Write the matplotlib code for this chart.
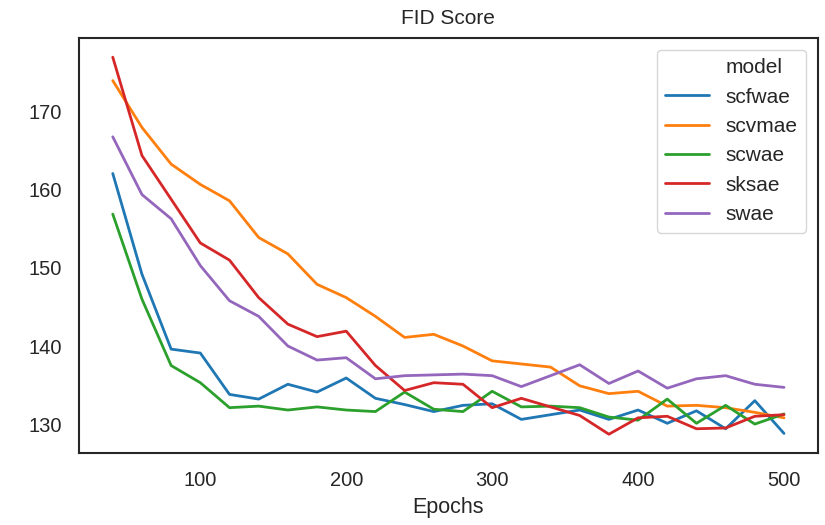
import matplotlib
matplotlib.use("Agg")
import matplotlib.pyplot as plt
import seaborn as sns
from matplotlib.lines import Line2D

sns.set_style("white")
plt.rcParams['font.family'] = ['Liberation Sans', 'DejaVu Sans']

epochs = list(range(40, 501, 20))

scfwae = [162.1, 149.2, 139.6, 139.1, 133.8, 133.2, 135.1, 134.1, 135.9, 133.3, 132.5, 131.6,
          132.4, 132.6, 130.6, 131.2, 131.8, 130.6, 131.8, 130.1, 131.7, 129.4, 133.0, 128.8]
scvmae = [174.0, 168.0, 163.3, 160.7, 158.6, 153.9, 151.8, 147.9, 146.2, 143.8, 141.1, 141.5,
          140.0, 138.1, 137.7, 137.3, 134.9, 133.9, 134.2, 132.3, 132.4, 132.1, 131.5, 130.8]
scwae = [156.9, 146.0, 137.5, 135.3, 132.1, 132.3, 131.8, 132.2, 131.8, 131.6, 134.1, 131.9,
         131.6, 134.2, 132.2, 132.3, 132.1, 130.9, 130.5, 133.2, 130.1, 132.4, 130.0, 131.3]
sksae = [177.0, 164.4, 158.8, 153.2, 151.0, 146.2, 142.8, 141.2, 141.9, 137.5, 134.3, 135.3,
         135.1, 132.1, 133.3, 132.2, 131.1, 128.7, 130.8, 131.0, 129.4, 129.5, 131.0, 131.2]
swae = [166.8, 159.4, 156.3, 150.3, 145.8, 143.8, 140.0, 138.2, 138.5, 135.8, 136.2, 136.3,
        136.4, 136.2, 134.8, 136.2, 137.6, 135.2, 136.8, 134.6, 135.8, 136.2, 135.1, 134.7]

models = ["scfwae", "scvmae", "scwae", "sksae", "swae"]
series = [scfwae, scvmae, scwae, sksae, swae]
colors = ["#1f77b4", "#ff7f0e", "#2ca02c", "#d62728", "#9467bd"]

fig = plt.figure(figsize=(8.25, 5.25), dpi=100)
ax = fig.add_axes([0.096, 0.137, 0.895, 0.79])

for name, vals, c in zip(models, series, colors):
    ax.plot(epochs, vals, color=c, lw=2, label=name)

for s in ax.spines.values():
    s.set_color("#262626")
    s.set_linewidth(1.5)

ax.set_yticks([130, 140, 150, 160, 170])
ax.set_xticks([100, 200, 300, 400, 500])
ax.tick_params(axis="both", labelsize=14.5, colors="#262626")
ax.tick_params(axis="x", pad=9.5)
ax.tick_params(axis="y", pad=9)
ax.set_xlabel("Epochs", fontsize=15.5, color="#262626", labelpad=5)
ax.set_title("FID Score", fontsize=15, color="#262626", pad=10)

# legend with the hue title as a blank first row, like old seaborn
handles = [Line2D([], [], color="none")] + [Line2D([], [], color=c, lw=2) for c in colors]
labels = ["model"] + models
leg = ax.legend(handles, labels, loc="upper right", fontsize=15, frameon=True,
                handlelength=2.1, borderpad=0.4, labelspacing=0.5, borderaxespad=0.55)
for t in leg.get_texts():
    t.set_color("#262626")

fig.savefig("out.png", dpi=100)
